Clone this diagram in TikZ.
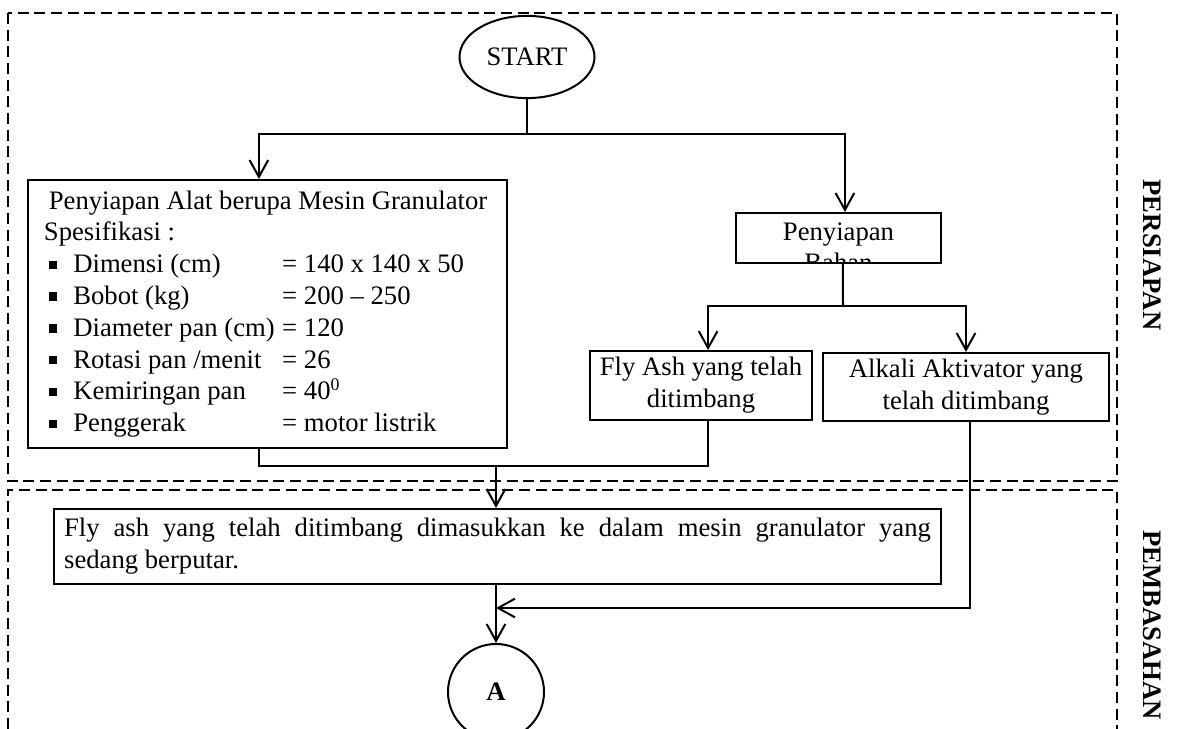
\documentclass[tikz,border=0pt]{standalone}
\usepackage{fontspec}
\setmainfont{Liberation Serif}
\usetikzlibrary{shapes.geometric,arrows.meta}
\tikzset{every node/.style={font=\fontsize{12pt}{14.3pt}\selectfont}}
\tikzstyle{block} = [rectangle, draw, line width=0.9pt, inner sep=0pt, align=center]
\tikzstyle{terminal} = [ellipse, draw, line width=0.9pt, inner sep=0pt]
\tikzstyle{link} = [draw, line width=0.9pt]
\tikzstyle{arrowlink} = [link, -{Straight Barb[length=7.6pt,width=8.4pt]}]
\tikzstyle{zone} = [draw, line width=0.6pt, dash pattern=on 5pt off 2.5pt]
\tikzstyle{zonelabel} = [rotate=-90, font=\fontsize{12pt}{14.3pt}\selectfont\bfseries]
\newcommand{\specrow}[2]{\hspace*{2.2pt}\rule[1.6pt]{3.8pt}{3.8pt}\hspace{7.2pt}\makebox[94pt][l]{#1}#2}

\begin{document}
\begin{tikzpicture}[x=0.45pt, y=-0.45pt]
    \useasboundingbox (0,0) rectangle (1178,729);
    % zones
    \draw [zone] (8,13) rectangle (1117,481);
    \draw [zone] (8,729) -- (8,490) -- (1117,490) -- (1117,729);
    \node [zonelabel] (lblprep) at (1152,255) {PERSIAPAN};
    \node [zonelabel] (lblwet) at (1152,625) {PEMBASAHAN};
    % nodes
    \node [terminal, minimum width=60.75pt, minimum height=37pt] (start) at (527,57) {START};
    \node [block, anchor=north west, text width=201pt, align=justify, inner xsep=7.2pt,
        minimum height=120.6pt] (alat) at (27,179) {%
        \hspace*{2.2pt}Penyiapan Alat berupa Mesin Granulator\\
        Spesifikasi :\\
        \specrow{Dimensi (cm)}{= 140 x 140 x 50}\\
        \specrow{Bobot (kg)}{= 200 -- 250}\\
        \specrow{Diameter pan (cm)}{= 120}\\
        \specrow{Rotasi pan /menit}{= 26}\\
        \specrow{Kemiringan pan}{= 40\textsuperscript{0}}\\
        \specrow{Penggerak}{= motor listrik}};
    \node [block, minimum width=92.25pt, minimum height=22.5pt,
        path picture={
            \node [anchor=base, yshift=-12.2pt] at (path picture bounding box.north) {Penyiapan};
            \node [anchor=base, yshift=-26.5pt] at (path picture bounding box.north) {Bahan};
        }] (bahan) at (838.5,238) {};
    \node [block, minimum width=100pt, minimum height=31pt] (flyash) at (701,385.5) {Fly Ash yang telah\\ditimbang};
    \node [block, minimum width=128.7pt, minimum height=30.6pt] (alkali) at (966,387) {Alkali Aktivator yang\\telah ditimbang};
    \node [block, text width=390pt, align=justify, inner xsep=4.5pt, minimum height=33.75pt] (masuk) at (497.5,546.5)
        {Fly ash yang telah ditimbang dimasukkan ke dalam mesin granulator yang\linebreak sedang berputar.};
    \node [circle, draw, line width=0.9pt, minimum size=43.2pt, font=\fontsize{12pt}{14.3pt}\selectfont\bfseries] (conA) at (496,692) {A};
    % junctions
    \coordinate (j1) at (527,134);
    \coordinate (j2) at (843,306);
    \coordinate (j3) at (496,466);
    \coordinate (j4) at (496,608);
    % connectors
    \path [link] (start) -- (j1);
    \path [arrowlink] (j1) -| ([xshift=-3.8pt]alat.north);
    \path [arrowlink] (j1) -| ([xshift=2.9pt]bahan.north);
    \path [link] ([xshift=2.0pt]bahan.south) -- (j2);
    \path [arrowlink] (j2) -| ([xshift=3.2pt]flyash.north);
    \path [arrowlink] (j2) -| (alkali.north);
    \path [link] ([xshift=-3.8pt]alat.south) |- (j3);
    \path [link] ([xshift=3.2pt]flyash.south) |- (j3);
    \path [arrowlink] (j3) -- (masuk.north -| j3);
    \path [arrowlink] (masuk.south -| j3) -- (conA);
    \path [arrowlink] ([xshift=1.8pt]alkali.south) |- (j4);
\end{tikzpicture}
\end{document}
